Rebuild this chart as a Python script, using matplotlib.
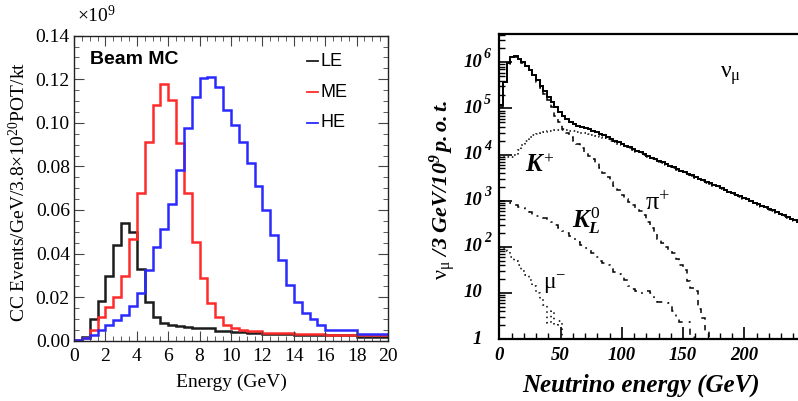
import numpy as np
import matplotlib
matplotlib.use("Agg")
import matplotlib.pyplot as plt
from matplotlib.ticker import MultipleLocator, LogLocator, NullFormatter, FormatStrFormatter

plt.rcParams['font.family'] = ['Liberation Serif', 'DejaVu Sans']
plt.rcParams['mathtext.fontset'] = 'custom'
plt.rcParams['mathtext.rm'] = 'Liberation Serif'
plt.rcParams['mathtext.it'] = 'Liberation Serif:italic:bold'
plt.rcParams['mathtext.sf'] = 'Liberation Serif:italic:bold'
plt.rcParams['mathtext.bf'] = 'Liberation Serif:bold'

# ---------------- Left panel: CC event spectra (x1e9), 0.5 GeV bins ----------------
beam_bin_width = 0.5
le_events = [0.0003, 0.0018, 0.0098, 0.0184, 0.0297, 0.0439, 0.0539, 0.0500,
             0.0328, 0.0179, 0.0110, 0.0080, 0.0072, 0.0067, 0.0063, 0.0059,
             0.0057, 0.0057, 0.0046, 0.0046, 0.0041, 0.0041, 0.0034, 0.0034,
             0.0029, 0.0029, 0.0029, 0.0029, 0.0024, 0.0024, 0.0024, 0.0024,
             0.0024, 0.0024, 0.0024, 0.0024, 0.0018, 0.0018, 0.0018, 0.0018]
me_events = [0.0002, 0.0012, 0.0049, 0.0110, 0.0156, 0.0202, 0.0298, 0.0465,
             0.0680, 0.0913, 0.1082, 0.1177, 0.1103, 0.0909, 0.0676, 0.0452,
             0.0287, 0.0172, 0.0110, 0.0070, 0.0059, 0.0050, 0.0046, 0.0046,
             0.0037, 0.0037, 0.0037, 0.0037, 0.0031, 0.0031, 0.0031, 0.0031,
             0.0028, 0.0028, 0.0028, 0.0028, 0.0024, 0.0024, 0.0024, 0.0024]
he_events = [0.0002, 0.0012, 0.0026, 0.0049, 0.0072, 0.0095, 0.0118, 0.0159,
             0.0220, 0.0325, 0.0432, 0.0511, 0.0627, 0.0783, 0.0975, 0.1120,
             0.1207, 0.1212, 0.1166, 0.1059, 0.0990, 0.0913, 0.0814, 0.0710,
             0.0600, 0.0485, 0.0370, 0.0254, 0.0176, 0.0126, 0.0098, 0.0072,
             0.0049, 0.0049, 0.0049, 0.0049, 0.0031, 0.0031, 0.0031, 0.0031]
beam_names = ['LE', 'ME', 'HE']
beam_colors = ['#1c1c1c', '#ff2a2a', '#2a2aff']

# ---------------- Right panel: nu_mu flux by parent, 3 GeV bins ----------------
flux_bin_width = 3
flux_total = [1.2e5, 3.8e5, 9.5e5, 1.30e6, 1.35e6, 1.20e6, 1.00e6, 8.5e5, 6.8e5, 5.3e5,
              4.1e5, 3.1e5, 2.4e5, 1.8e5, 1.35e5, 1.05e5, 8.5e4, 7.0e4, 6.0e4, 5.2e4,
              4.57e4, 4.27e4, 3.98e4, 3.76e4, 3.51e4, 3.27e4, 3.02e4, 2.85e4, 2.63e4, 2.40e4,
              2.19e4, 2.00e4, 1.86e4, 1.70e4, 1.55e4, 1.45e4, 1.32e4, 1.20e4, 1.12e4, 1.02e4,
              9.3e3, 8.5e3, 7.9e3, 7.2e3, 6.8e3, 6.2e3, 5.75e3, 5.25e3, 4.9e3, 4.47e3,
              4.17e3, 3.8e3, 3.55e3, 3.24e3, 3.02e3, 2.82e3, 2.57e3, 2.4e3, 2.19e3, 2.04e3,
              1.86e3, 1.74e3, 1.58e3, 1.48e3, 1.35e3, 1.26e3, 1.15e3, 1.07e3, 1.00e3, 912,
              851, 776, 724, 661, 617, 562, 525, 479, 447, 407,
              380, 347, 324, 295]
flux_kplus = [9.0e3, 9.0e3, 8.8e3, 9.0e3, 1.0e4, 1.25e4, 1.6e4, 2.0e4, 2.35e4, 2.6e4,
              2.8e4, 2.95e4, 3.1e4, 3.2e4, 3.3e4, 3.35e4, 3.4e4, 3.4e4, 3.35e4, 3.3e4,
              3.2e4, 3.1e4, 3.0e4, 2.9e4, 2.8e4, 2.7e4, 2.55e4, 2.4e4, 2.3e4, 2.15e4,
              2.0e4, 1.85e4, 1.72e4, 1.6e4, 1.48e4, 1.38e4, 1.27e4, 1.16e4, 1.08e4, 9.7e3,
              8.9e3, 8.1e3, 7.5e3, 6.9e3, 6.5e3, 5.9e3, 5.5e3, 5.0e3, 4.7e3, 4.3e3,
              4.0e3, 3.65e3, 3.4e3, 3.1e3, 2.9e3, 2.7e3, 2.47e3, 2.3e3, 2.1e3, 1.96e3,
              1.79e3, 1.67e3, 1.52e3, 1.42e3, 1.3e3, 1.21e3, 1.1e3, 1.03e3, 960, 875,
              817, 745, 695, 635, 592, 540, 504, 460, 429, 391,
              365, 333, 311, 283]
flux_piplus = [1.1e5, 3.7e5, 9.4e5, 1.29e6, 1.33e6, 1.19e6, 9.8e5, 8.3e5, 6.6e5, 5.1e5,
               3.8e5, 2.8e5, 2.1e5, 1.5e5, 1.05e5, 7.0e4, 5.0e4, 3.6e4, 2.9e4, 2.4e4,
               2.0e4, 1.7e4, 1.4e4, 1.15e4, 9.5e3, 8.0e3, 6.6e3, 5.2e3, 4.0e3, 3.2e3,
               2.6e3, 2.1e3, 1.7e3, 1.35e3, 1.1e3, 950, 800, 700, 600, 480,
               340, 260, 200, 150, 120, 100, 85, 75, 55, 40,
               32, 18, 13, 11, 4.5, 2.8, 1.5, 0]
flux_k0l = [1.0e3, 980, 950, 900, 820, 740, 680, 620, 560, 500,
            460, 440, 420, 380, 340, 300, 260, 225, 200, 170,
            150, 130, 110, 95, 85, 72, 60, 50, 45, 40,
            33, 28, 26, 24, 19, 14, 12, 11, 10, 10,
            11, 10, 7, 6.5, 6.5, 6.3, 6, 4, 3, 2.3,
            2.3, 2.3, 1.1, 0]
flux_muminus = [100, 95, 80, 60, 50, 40, 30, 24, 19, 14, 10, 7.5, 5.5, 2.2, 4.0, 2.0, 2.5, 0]

decades = [1, 10, 100, 1e3, 1e4, 1e5, 1e6]
energy_ticks = [0, 50, 100, 150, 200]

# ---------------- Figure ----------------
W, H = 798, 401
fig = plt.figure(figsize=(W / 100, H / 100), dpi=100)


def fx(x):
    return x / W


def fy(y):
    return 1 - y / H


# Left panel
ax1 = fig.add_axes([fx(74), fy(340.7), (388 - 74) / W, (340.7 - 35.7) / H])
beam_edges = np.arange(len(le_events) + 1) * beam_bin_width
for vals, col in zip([le_events, me_events, he_events], beam_colors):
    ax1.stairs(vals, beam_edges, color=col, lw=1.8, baseline=None)
ax1.set_xlim(0, 20)
ax1.set_ylim(0, 0.14)
ax1.xaxis.set_major_locator(MultipleLocator(2))
ax1.xaxis.set_minor_locator(MultipleLocator(0.5))
ax1.yaxis.set_major_locator(MultipleLocator(0.02))
ax1.yaxis.set_minor_locator(MultipleLocator(0.005))
ax1.yaxis.set_major_formatter(FormatStrFormatter('%.2f'))
ax1.tick_params(which='both', direction='in', top=True, right=True, colors='#444444',
                labelcolor='black', labelsize=14)
ax1.tick_params(which='major', length=7, width=0.8)
ax1.tick_params(which='minor', length=3.5, width=0.6)
ax1.tick_params(axis='y', pad=3)
ax1.tick_params(axis='x', pad=5)
for s in ax1.spines.values():
    s.set_color('#222222')
    s.set_linewidth(1.0)

fig.text(fx(18.5), fy(192), 'CC Events/GeV/3.8×10$^{20}$POT/kt', rotation=90,
         ha='center', va='center', fontsize=14)
fig.text(fx(231), fy(382), 'Energy (GeV)', ha='center', va='center', fontsize=14)
fig.text(fx(77), fy(15), '×10$^{9}$', ha='left', va='center', fontsize=14)

ax1.text(0.051, 0.922, 'Beam MC', transform=ax1.transAxes, ha='left', va='center',
         fontsize=14, fontweight='bold', family='Liberation Sans')
legend_y = [0.917, 0.815, 0.714]
for name, col, yy in zip(beam_names, beam_colors, legend_y):
    ax1.plot([0.742, 0.777], [yy, yy], color=col, lw=1.3, transform=ax1.transAxes)
    ax1.text(0.785, yy, name, transform=ax1.transAxes, ha='left', va='center',
             fontsize=13, family='Liberation Sans')

# Right panel
ax2 = fig.add_axes([fx(499.3), fy(339), 306.3 / W, (339 - 34.3) / H])
ax2.set_yscale('log')
ax2.set_xlim(0, 250)
ax2.set_ylim(1, 4.06e6)


def flux_edges(vals):
    return np.arange(len(vals) + 1) * flux_bin_width


ax2.stairs(flux_muminus, flux_edges(flux_muminus), color='black', lw=1.1,
           linestyle=(0, (1, 2.5)), baseline=None)
ax2.stairs(flux_k0l, flux_edges(flux_k0l), color='black', lw=1.1,
           linestyle=(0, (4, 4, 1.2, 4)), baseline=None)
ax2.stairs(flux_piplus, flux_edges(flux_piplus), color='black', lw=1.1,
           linestyle=(0, (3.5, 3.5)), baseline=None)
ax2.stairs(flux_kplus, flux_edges(flux_kplus), color='black', lw=1.1,
           linestyle=(0, (1, 1.8)), baseline=None)
ax2.stairs(flux_total, flux_edges(flux_total), color='black', lw=1.4, baseline=None)

ax2.set_xticks(energy_ticks)
ax2.xaxis.set_minor_locator(MultipleLocator(10))
ax2.set_yticks(decades)
ax2.yaxis.set_minor_locator(LogLocator(base=10, subs=np.arange(2, 10)))
ax2.yaxis.set_major_formatter(NullFormatter())
ax2.yaxis.set_minor_formatter(NullFormatter())
ax2.tick_params(which='both', direction='in', top=False, right=False)
ax2.tick_params(which='major', length=9, width=1.2)
ax2.tick_params(which='minor', length=4.5, width=1.0)
ax2.tick_params(axis='x', pad=6, labelsize=13.5)
for lab in ax2.get_xticklabels():
    lab.set_fontstyle('italic')
    lab.set_fontweight('bold')
for s in ax2.spines.values():
    s.set_linewidth(1.6)

ytr = ax2.get_yaxis_transform()
for d in decades:
    e = int(round(np.log10(d)))
    mant = '1' if e == 0 else '10'
    ax2.text(-0.056, d, mant, transform=ytr, ha='right', va='center', fontsize=13.5,
             fontstyle='italic', fontweight='bold')
    if e >= 2:
        ax2.annotate(str(e), xy=(-0.05, d), xycoords=ytr, xytext=(0, 6),
                     textcoords='offset points', ha='left', va='center', fontsize=10,
                     fontstyle='italic', fontweight='bold')

fig.text(fx(443), fy(190),
         r'$\mathrm{\nu}_{\mathrm{\mu}}\ \mathsf{/3\ GeV/10^{9}\,p.o.t.}$',
         rotation=90, ha='center', va='center', fontsize=16)
fig.text(fx(641), fy(385), 'Neutrino energy (GeV)', ha='center', va='center',
         fontsize=18, fontstyle='italic', fontweight='bold')

fig.text(fx(720), fy(78), r'$\mathrm{\nu}_{\mathrm{\mu}}$', ha='left', va='baseline', fontsize=17)
fig.text(fx(525), fy(172), r'$\mathit{K^{+}}$', ha='left', va='baseline', fontsize=18)
fig.text(fx(645), fy(210), r'$\mathrm{\pi}^{+}$', ha='left', va='baseline', fontsize=19)
fig.text(fx(572), fy(228), r'$\mathit{K_{L}^{0}}$', ha='left', va='baseline', fontsize=18)
fig.text(fx(543), fy(288), r'$\mathrm{\mu}^{-}$', ha='left', va='baseline', fontsize=17)

fig.savefig('out.png', dpi=100)
